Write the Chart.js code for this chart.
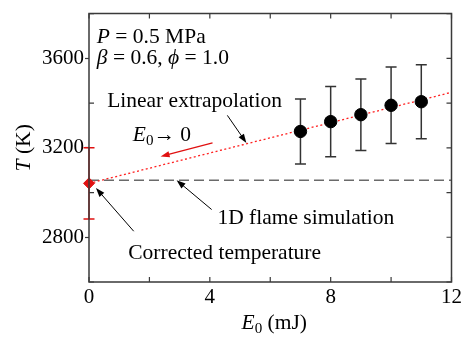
<!DOCTYPE html>
<html>
<head>
<meta charset="utf-8">
<script src="https://cdn.jsdelivr.net/npm/chart.js@4.4.1/dist/chart.umd.min.js"></script>
<style>
  html, body { margin: 0; padding: 0; background: #fff; }
  #wrap { width: 465px; height: 338px; }
</style>
</head>
<body>
<div id="wrap"><canvas id="grafico"></canvas></div>
<script>
// Dados
var energy = [7, 8, 9, 10, 11];              // E0 (mJ)
var temperature = [3273, 3317, 3348, 3390, 3406]; // T (K)
var tempError = [145, 157, 160, 171, 165];

var correctedE = [0];
var correctedT = [3041];
var correctedErr = [159];

var fitE = [0, 12];
var fitT = [3041, 3448];

var flameE = [0, 12];
var flameT = [3055, 3055];

var xTicks = [0, 4, 8, 12];
var yTicks = [2800, 3200, 3600];

var serif = '"Liberation Serif", "Times New Roman", serif';
var axisColor = '#3a3a3a';

function toPoints(xs, ys) {
  return xs.map(function (x, i) { return { x: x, y: ys[i] }; });
}

// texto com itálico e subscrito
function drawRich(ctx, parts, x, y, size) {
  ctx.textBaseline = 'middle';
  ctx.textAlign = 'left';
  parts.forEach(function (p) {
    var s = p.sub ? size * 0.7 : size;
    ctx.font = (p.it ? 'italic ' : '') + s + 'px ' + serif;
    ctx.fillText(p.t, x, y + (p.sub ? size * 0.28 : 0));
    x += ctx.measureText(p.t).width;
  });
  return x;
}

function richWidth(ctx, parts, size) {
  var w = 0;
  parts.forEach(function (p) {
    var s = p.sub ? size * 0.7 : size;
    ctx.font = (p.it ? 'italic ' : '') + s + 'px ' + serif;
    w += ctx.measureText(p.t).width;
  });
  return w;
}

function drawArrow(ctx, x1, y1, x2, y2, color, lw) {
  var a = Math.atan2(y2 - y1, x2 - x1);
  var hl = 9, hw = 3.2;
  ctx.save();
  ctx.strokeStyle = color;
  ctx.fillStyle = color;
  ctx.lineWidth = lw;
  ctx.beginPath();
  ctx.moveTo(x1, y1);
  ctx.lineTo(x2 - Math.cos(a) * hl * 0.8, y2 - Math.sin(a) * hl * 0.8);
  ctx.stroke();
  ctx.beginPath();
  ctx.moveTo(x2, y2);
  ctx.lineTo(x2 - Math.cos(a) * hl - Math.sin(a) * hw, y2 - Math.sin(a) * hl + Math.cos(a) * hw);
  ctx.lineTo(x2 - Math.cos(a) * hl + Math.sin(a) * hw, y2 - Math.sin(a) * hl - Math.cos(a) * hw);
  ctx.closePath();
  ctx.fill();
  ctx.restore();
}

// barras de erro, ticks internos, moldura e anotações
var extras = {
  id: 'extras',
  beforeDatasetsDraw: function (chart) {
    var ctx = chart.ctx, xs = chart.scales.x, ys = chart.scales.y;
    function bar(x, y, e, color) {
      var px = xs.getPixelForValue(x);
      var top = ys.getPixelForValue(y + e), bot = ys.getPixelForValue(y - e);
      ctx.strokeStyle = color;
      ctx.lineWidth = 1.5;
      ctx.beginPath();
      ctx.moveTo(px, top); ctx.lineTo(px, bot);
      ctx.moveTo(px - 5.5, top); ctx.lineTo(px + 5.5, top);
      ctx.moveTo(px - 5.5, bot); ctx.lineTo(px + 5.5, bot);
      ctx.stroke();
    }
    ctx.save();
    energy.forEach(function (e, i) { bar(e, temperature[i], tempError[i], '#333'); });
    correctedE.forEach(function (e, i) { bar(e, correctedT[i], correctedErr[i], '#e01010'); });
    ctx.restore();
  },
  afterDraw: function (chart) {
    var ctx = chart.ctx, xs = chart.scales.x, ys = chart.scales.y;
    var a = chart.chartArea;
    var X = function (v) { return xs.getPixelForValue(v); };
    var Y = function (v) { return ys.getPixelForValue(v); };
    ctx.save();
    ctx.strokeStyle = axisColor;
    ctx.lineWidth = 1.5;
    ctx.beginPath();
    ctx.rect(a.left, a.top, a.right - a.left, a.bottom - a.top);
    ctx.stroke();
    ctx.lineWidth = 1.2;
    ctx.beginPath();
    for (var v = 0; v <= 12; v += 2) {
      ctx.moveTo(X(v), a.bottom); ctx.lineTo(X(v), a.bottom - 5);
      ctx.moveTo(X(v), a.top); ctx.lineTo(X(v), a.top + 5);
    }
    for (var t = 2600; t <= 3800; t += 200) {
      ctx.moveTo(a.right, Y(t)); ctx.lineTo(a.right - 5, Y(t));
      if (yTicks.indexOf(t) < 0) { ctx.moveTo(a.left, Y(t)); ctx.lineTo(a.left + 5, Y(t)); }
    }
    ctx.stroke();

    ctx.fillStyle = '#000';
    var fs = 21.5;
    drawRich(ctx, [{ t: 'P', it: true }, { t: ' = 0.5 MPa' }], X(0.26), Y(3695), fs);
    drawRich(ctx, [{ t: 'β', it: true }, { t: ' = 0.6, ' }, { t: 'ϕ', it: true }, { t: ' = 1.0' }], X(0.26), Y(3599), fs);
    drawRich(ctx, [{ t: 'Linear extrapolation' }], X(0.6), Y(3406), fs);
    drawArrow(ctx, X(4.58), Y(3345), X(5.21), Y(3222), '#000', 1);
    drawRich(ctx, [{ t: 'E', it: true }, { t: '0', sub: true }, { t: '→ 0' }], X(1.45), Y(3257), fs);
    drawArrow(ctx, X(4.09), Y(3222), X(2.37), Y(3161), '#e01010', 1.3);
    drawRich(ctx, [{ t: '1D flame simulation' }], X(4.25), Y(2884), fs);
    drawArrow(ctx, X(4.06), Y(2924), X(2.90), Y(3055), '#000', 1);
    drawRich(ctx, [{ t: 'Corrected temperature' }], X(1.3), Y(2727), fs);
    drawArrow(ctx, X(1.48), Y(2827), X(0.23), Y(3020), '#000', 1);

    // títulos dos eixos
    var xt = [{ t: 'E', it: true }, { t: '0', sub: true }, { t: ' (mJ)' }];
    var w = richWidth(ctx, xt, fs);
    drawRich(ctx, xt, (a.left + a.right) / 2 - w / 2 + 4, 323, fs);
    var yt = [{ t: 'T', it: true }, { t: ' (K)' }];
    var wy = richWidth(ctx, yt, fs);
    ctx.translate(24, (a.top + a.bottom) / 2);
    ctx.rotate(-Math.PI / 2);
    drawRich(ctx, yt, -wy / 2, 0, fs);
    ctx.restore();
  }
};

var data = {
  datasets: [
    {
      label: 'Experiment',
      data: toPoints(energy, temperature),
      backgroundColor: '#000',
      borderColor: '#000',
      pointRadius: 6.2,
      showLine: false,
      order: 1
    },
    {
      label: 'Corrected temperature',
      data: toPoints(correctedE, correctedT),
      backgroundColor: '#e01010',
      borderColor: '#e01010',
      pointStyle: 'rectRot',
      pointRadius: 5.5,
      showLine: false,
      clip: false,
      order: 2
    },
    {
      label: 'Linear extrapolation',
      data: toPoints(fitE, fitT),
      borderColor: '#ff2020',
      borderWidth: 1.3,
      borderDash: [2, 2.5],
      pointRadius: 0,
      showLine: true,
      order: 3
    },
    {
      label: '1D flame simulation',
      data: toPoints(flameE, flameT),
      borderColor: '#6a6a6a',
      borderWidth: 1.6,
      borderDash: [10, 5],
      pointRadius: 0,
      showLine: true,
      order: 4
    }
  ]
};

var options = {
  responsive: false,
  animation: false,
  layout: { padding: { top: 9, right: 12, left: 0, bottom: 0 } },
  plugins: { legend: { display: false }, tooltip: { enabled: false } },
  scales: {
    x: {
      type: 'linear',
      min: 0,
      max: 12,
      afterBuildTicks: function (s) { s.ticks = xTicks.map(function (v) { return { value: v }; }); },
      afterFit: function (s) { s.height = 56; },
      grid: { display: false, drawTicks: false },
      border: { display: false },
      ticks: { color: '#000', padding: 3, maxRotation: 0, font: { family: serif, size: 21 },
        callback: function (v) { return String(v); } }
    },
    y: {
      min: 2600,
      max: 3800,
      afterBuildTicks: function (s) { s.ticks = yTicks.map(function (v) { return { value: v }; }); },
      afterFit: function (s) { s.width = 89; },
      grid: { drawOnChartArea: false, tickLength: 4, color: axisColor, tickWidth: 1.2 },
      border: { display: false },
      ticks: { color: '#000', padding: 1, font: { family: serif, size: 21 },
        callback: function (v) { return String(v); } }
    }
  }
};

var canvas = document.getElementById('grafico');
canvas.width = 465;
canvas.height = 338;
new Chart(canvas.getContext('2d'), {
  type: 'scatter',
  data: data,
  options: options,
  plugins: [extras]
});
</script>
</body>
</html>
